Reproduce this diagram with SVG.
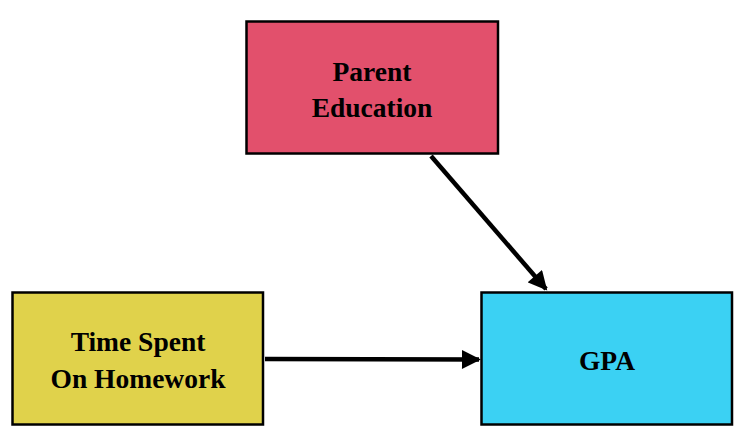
<svg xmlns="http://www.w3.org/2000/svg" width="748" height="442" viewBox="0 0 748 442">
<style>
.box{stroke:#000;stroke-width:2.5}
.t{font-family:"Liberation Serif","Times New Roman",serif;font-weight:bold;font-size:27.5px;text-anchor:middle;fill:#000}
.c{stroke:#000;stroke-width:4.5;fill:none}
</style>
<defs>
<marker id="ah" viewBox="0 0 10 10" refX="9" refY="5" markerWidth="4.5" markerHeight="4.2" markerUnits="strokeWidth" orient="auto">
<path d="M0,0 L10,5 L0,10 z" fill="#000"/>
</marker>
</defs>
<rect width="748" height="442" fill="#fff"/>
<g id="parent">
<rect class="box" x="246.5" y="21.5" width="251.5" height="132" fill="#E2506C"/>
<text class="t" x="372" y="81">Parent</text>
<text class="t" x="372" y="117">Education</text>
</g>
<g id="time">
<rect class="box" x="12.5" y="292.5" width="250.5" height="132" fill="#E0D24B"/>
<text class="t" x="138" y="351">Time Spent</text>
<text class="t" x="138" y="388">On Homework</text>
</g>
<g id="gpa">
<rect class="box" x="481.5" y="292.5" width="250.5" height="132" fill="#3BD1F3"/>
<text class="t" x="607" y="370">GPA</text>
</g>
<g id="connectors">
<line class="c" x1="431" y1="156" x2="546" y2="289" marker-end="url(#ah)"/>
<line class="c" x1="265" y1="359" x2="479" y2="359.5" marker-end="url(#ah)"/>
</g>
</svg>
